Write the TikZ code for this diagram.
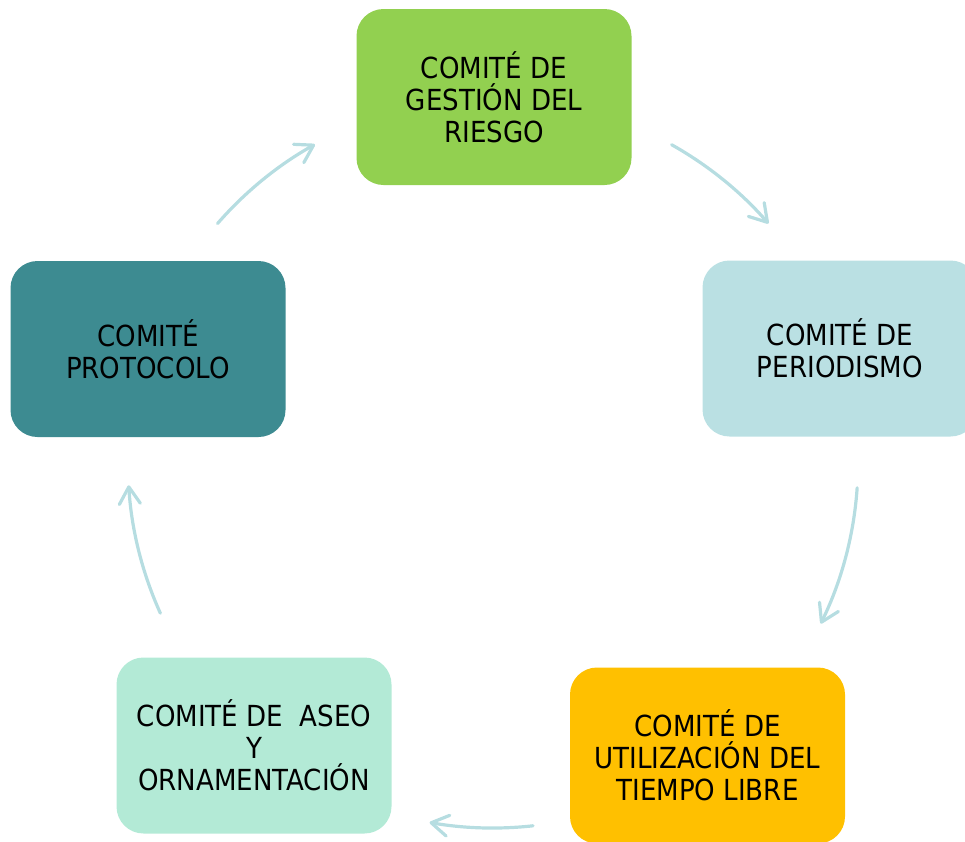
\documentclass[tikz,border=0pt]{standalone}
\usepackage{fontspec}
\setmainfont{DejaVu Sans}[FakeStretch=0.9]
\usetikzlibrary{arrows.meta}
\definecolor{cgreen}{HTML}{92D050}
\definecolor{cblue}{HTML}{BAE0E3}
\definecolor{corange}{HTML}{FFC000}
\definecolor{cmint}{HTML}{B3EAD6}
\definecolor{cteal}{HTML}{3D8B91}
\definecolor{carrow}{HTML}{B6DDE1}
\tikzset{
  combox/.style={rounded corners=27pt, minimum width=275pt, minimum height=176pt,
    inner sep=0pt, align=center, text=black,
    font=\fontsize{29}{32}\selectfont},
  cycarrow/.style={draw=carrow, line width=3.2pt, line cap=round,
    -{Straight Barb[length=17pt,width=21pt,round]}}
}
\begin{document}
\begin{tikzpicture}[x=1pt,y=-1pt]
\useasboundingbox (0,0) rectangle (965,841);
\clip (0,0) rectangle (965,841);
\node[combox, fill=cgreen] (riesgo) at (494,97) {COMITÉ DE\\GESTIÓN DEL\\RIESGO};
\node[combox, fill=cblue] (period) at (840,348.5) {COMITÉ DE\\PERIODISMO};
\node[combox, fill=corange] (tiempo) at (707.5,755.5) {COMITÉ DE\\UTILIZACIÓN DEL\\TIEMPO LIBRE};
\node[combox, fill=cmint] (aseo) at (254,745.5) {COMITÉ DE~ ASEO\\Y\\ORNAMENTACIÓN};
\node[combox, fill=cteal] (proto) at (148,349) {COMITÉ\\PROTOCOLO};
\coordinate (ctr) at (493,463);
\coordinate (a1) at ([shift={(-139:365)}]ctr);
\coordinate (a2) at ([shift={(-60.7:365)}]ctr);
\coordinate (a3) at ([shift={(3.9:365)}]ctr);
\coordinate (a4) at ([shift={(83.7:365)}]ctr);
\coordinate (a5) at ([shift={(155.7:365)}]ctr);
\draw[cycarrow] (a1) arc[start angle=-139, end angle=-119.2, radius=365];
\draw[cycarrow] (a2) arc[start angle=-60.7, end angle=-41, radius=365];
\draw[cycarrow] (a3) arc[start angle=3.9, end angle=26.1, radius=365];
\draw[cycarrow] (a4) arc[start angle=83.7, end angle=100, radius=365];
\draw[cycarrow] (a5) arc[start angle=155.7, end angle=176.5, radius=365];
\end{tikzpicture}
\end{document}
